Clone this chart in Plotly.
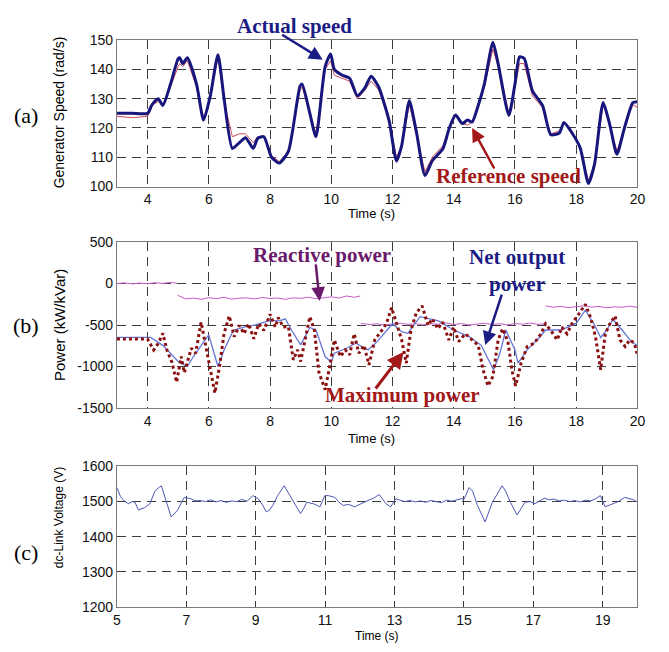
import plotly.graph_objects as go

# ---------------- Panel (a): generator speed ----------------
t_speed = [3.0, 3.5, 4.0, 4.1, 4.15, 4.35, 4.5, 4.75, 5.0, 5.05, 5.15, 5.3, 5.6, 5.83, 6.05, 6.3, 6.5, 6.77,
           7.0, 7.2, 7.45, 7.6, 7.8, 8.05, 8.3, 8.6, 8.98, 9.05, 9.3, 9.5, 9.8, 9.98, 10.1, 10.36, 10.6, 10.85,
           11.1, 11.3, 11.55, 11.75, 11.9, 12.13, 12.3, 12.55, 12.78, 13.06, 13.3, 13.65, 13.85, 14.06, 14.28,
           14.45, 14.6, 14.8, 15.0, 15.28, 15.45, 15.8, 16.0, 16.15, 16.3, 16.57, 16.9, 17.17, 17.45, 17.6,
           17.8, 18.13, 18.4, 18.6, 18.88, 19.1, 19.33, 19.57, 19.85, 20.0]
actual_speed = [125, 125, 125, 127, 128, 130, 127.7, 135, 143.7, 144, 142, 144, 135, 122.7, 131, 145, 130, 113,
                115, 116.7, 113, 116.5, 117, 110, 108, 112, 134.3, 135, 125, 117, 141, 145.3, 140, 138, 137, 131,
                133.7, 137.7, 134, 127.7, 122, 108.7, 114, 129.3, 118.7, 103.8, 108.8, 113, 119.8, 124.4, 121.5,
                122.7, 122, 127.7, 135, 149.3, 142, 124.3, 135, 144.3, 143.8, 132.7, 127.7, 117.7, 118.3, 121.9,
                119.3, 113.2, 101, 107.7, 128.7, 121, 111, 119.8, 128.7, 129]
reference_speed = [124, 123.5, 124, 126, 128, 129, 128, 134, 141, 142, 141, 143, 134, 123, 131, 144, 129, 117,
                   118, 118, 115, 117, 117, 110.5, 108.5, 112, 133, 134, 125, 118, 140, 143, 138, 137, 136, 130,
                   133, 136, 133, 127, 122, 110, 114, 128, 118, 105, 110, 114, 120, 124, 121.5, 121, 122, 127,
                   134, 147, 141, 125, 134, 142, 142, 131, 127, 118, 119, 122, 120, 113, 102, 108, 128, 121, 112,
                   120, 128, 127]

# ---------------- Panel (b): power ----------------
t_pmax = [3.0, 3.5, 4.0, 4.2, 4.36, 4.5, 4.63, 4.8, 4.95, 5.1, 5.2, 5.43, 5.57, 5.75, 5.9, 6.1, 6.2, 6.35, 6.5,
          6.67, 6.83, 7.0, 7.15, 7.3, 7.47, 7.63, 7.8, 8.0, 8.17, 8.27, 8.43, 8.6, 8.76, 8.9, 9.0, 9.3, 9.45,
          9.6, 9.8, 9.95, 10.1, 10.3, 10.46, 10.6, 10.75, 10.9, 11.07, 11.23, 11.42, 11.65, 11.8, 11.97, 12.13,
          12.3, 12.45, 12.6, 12.78, 12.97, 13.16, 13.3, 13.48, 13.64, 13.84, 14.0, 14.16, 14.38, 14.6, 14.8,
          14.96, 15.12, 15.28, 15.45, 15.6, 15.77, 15.9, 16.02, 16.2, 16.4, 16.63, 16.85, 17.0, 17.17, 17.38,
          17.53, 17.7, 17.86, 18.08, 18.3, 18.47, 18.63, 18.8, 18.95, 19.1, 19.27, 19.43, 19.6, 19.75, 19.9, 20.0]
max_power = [-670, -670, -670, -800, -715, -600, -800, -955, -1190, -880, -1075, -780, -840, -465, -760, -1120,
             -1320, -1000, -600, -390, -640, -505, -605, -485, -665, -485, -565, -370, -525, -410, -525, -520,
             -920, -800, -940, -400, -565, -1075, -1280, -1000, -680, -880, -800, -860, -605, -840, -745, -980,
             -680, -565, -485, -290, -485, -680, -960, -565, -350, -270, -505, -425, -545, -465, -680, -525,
             -700, -605, -680, -745, -1040, -1235, -1120, -680, -545, -700, -1040, -1235, -960, -760, -720, -605,
             -485, -565, -680, -525, -605, -485, -370, -250, -410, -640, -1040, -605, -485, -390, -680, -760,
             -680, -720, -860]

t_pnet = [3.0, 4.1, 4.5, 5.0, 5.3, 5.5, 5.8, 6.0, 6.3, 6.5, 6.8, 7.2, 7.5, 8.0, 8.3, 8.5, 8.7, 9.0, 9.3, 9.5,
          9.8, 10.0, 10.1, 10.5, 10.8, 11.2, 11.5, 11.8, 12.0, 12.3, 12.5, 12.9, 13.5, 14.0, 14.5, 14.9, 15.3,
          15.5, 15.7, 16.0, 16.1, 16.4, 16.8, 17.0, 17.5, 18.0, 18.3, 18.6, 18.8, 19.0, 19.2, 19.5, 19.8, 20.0]
net_power = [-650, -650, -745, -940, -1000, -880, -720, -620, -1000, -800, -565, -520, -500, -445, -450, -425,
             -560, -740, -530, -560, -880, -950, -840, -780, -720, -800, -700, -565, -485, -580, -600, -400,
             -450, -560, -640, -745, -1040, -850, -560, -800, -960, -800, -650, -560, -560, -480, -320, -500,
             -650, -560, -430, -560, -700, -750]

t_q = [3.0, 3.25, 3.5, 3.75, 4.0, 4.25, 4.5, 4.75, 4.96, None,
       4.98, 5.25, 5.5, 5.75, 6.0, 6.25, 6.5, 6.75, 7.0, 7.25, 7.5, 7.75, 8.0, 8.25, 8.5, 8.75, 9.0, 9.25,
       9.5, 9.75, 10.0, 10.25, 10.5, 10.75, 10.95, None,
       10.97, 11.25, 11.5, 11.75, 12.0, 12.25, 12.5, 12.75, 13.0, 13.25, 13.5, 13.75, 14.0, 14.25, 14.5,
       14.75, 15.0, 15.25, 15.5, 15.75, 16.0, 16.25, 16.5, 16.75, 16.98, None,
       17.0, 17.25, 17.5, 17.75, 18.0, 18.25, 18.5, 18.75, 19.0, 19.25, 19.5, 19.75, 20.0]
reactive_power = [0, 8, -4, 6, -2, 10, 2, 14, 5, None,
                  -140, -185, -175, -190, -170, -182, -165, -188, -176, -172, -185, -168, -180, -175, -190,
                  -172, -178, -165, -183, -170, -160, -175, -150, -165, -150, None,
                  -480, -495, -485, -500, -488, -478, -492, -484, -498, -486, -490, -475, -495, -482, -500,
                  -487, -479, -493, -485, -497, -483, -490, -476, -492, -485, None,
                  -270, -285, -275, -290, -278, -268, -284, -276, -292, -280, -286, -272, -288]

# ---------------- Panel (c): dc-link voltage ----------------
t_dc = [5.0, 5.1, 5.19, 5.33, 5.45, 5.52, 5.62, 5.7, 5.8, 5.95, 6.1, 6.28, 6.42, 6.56, 6.65, 6.75, 6.94, 7.05,
        7.13, 7.25, 7.41, 7.55, 7.7, 7.85, 8.0, 8.15, 8.3, 8.45, 8.6, 8.75, 8.92, 9.07, 9.2, 9.3, 9.4, 9.49,
        9.63, 9.82, 9.96, 10.14, 10.29, 10.38, 10.47, 10.56, 10.66, 10.75, 10.85, 10.99, 11.09, 11.28, 11.4,
        11.52, 11.68, 11.85, 12.0, 12.1, 12.23, 12.4, 12.56, 12.65, 12.75, 12.89, 13.03, 13.15, 13.3, 13.45,
        13.6, 13.75, 13.9, 14.05, 14.2, 14.35, 14.5, 14.65, 14.8, 14.92, 15.01, 15.15, 15.25, 15.39, 15.61,
        15.82, 15.95, 16.1, 16.2, 16.34, 16.53, 16.65, 16.76, 16.9, 17.05, 17.2, 17.33, 17.45, 17.6, 17.75,
        17.9, 18.05, 18.2, 18.35, 18.5, 18.65, 18.8, 18.93, 19.07, 19.2, 19.3, 19.45, 19.63, 19.8, 19.9, 20.0]
dc_voltage = [1540, 1515, 1503, 1494, 1500, 1498, 1476, 1480, 1483, 1494, 1531, 1545, 1498, 1457, 1465, 1476,
              1512, 1510, 1508, 1502, 1503, 1500, 1505, 1499, 1503, 1498, 1502, 1500, 1506, 1501, 1517, 1508,
              1490, 1471, 1476, 1489, 1517, 1545, 1521, 1494, 1466, 1480, 1498, 1496, 1494, 1490, 1485, 1517,
              1517, 1512, 1498, 1489, 1492, 1485, 1493, 1497, 1503, 1510, 1520, 1508, 1494, 1485, 1508, 1504,
              1500, 1503, 1499, 1502, 1498, 1503, 1500, 1497, 1504, 1501, 1505, 1508, 1508, 1540, 1530, 1489,
              1442, 1498, 1520, 1545, 1530, 1498, 1462, 1480, 1498, 1500, 1494, 1503, 1510, 1505, 1507, 1502,
              1504, 1500, 1503, 1499, 1504, 1502, 1508, 1517, 1485, 1490, 1494, 1500, 1512, 1508, 1505, 1498]

# ---------------- ticks ----------------
x_ticks_ab = [4, 6, 8, 10, 12, 14, 16, 18, 20]
x_ticks_c = [5, 7, 9, 11, 13, 15, 17, 19]
y_ticks_a = [100, 110, 120, 130, 140, 150]
y_ticks_b = [-1500, -1000, -500, 0, 500]
y_ticks_b_text = ["-1500", "-1000", "-500", "0", "500"]
y_ticks_c = [1200, 1300, 1400, 1500, 1600]

W, H = 669, 652
def px(x):
    return x / W
def py(y):
    return 1 - y / H

fig = go.Figure()

fig.add_trace(go.Scatter(x=t_speed, y=reference_speed, mode="lines", xaxis="x", yaxis="y",
                         line=dict(color="#d04a5a", width=1), showlegend=False))
fig.add_trace(go.Scatter(x=t_speed, y=actual_speed, mode="lines", xaxis="x", yaxis="y",
                         line=dict(color="#16167c", width=3, shape="spline", smoothing=0.6), showlegend=False))

fig.add_trace(go.Scatter(x=t_q, y=reactive_power, mode="lines", xaxis="x2", yaxis="y2", connectgaps=False,
                         line=dict(color="#c65ac8", width=1), showlegend=False))
fig.add_trace(go.Scatter(x=t_pnet, y=net_power, mode="lines", xaxis="x2", yaxis="y2",
                         line=dict(color="#6676d6", width=1.3), showlegend=False))
fig.add_trace(go.Scatter(x=t_pmax, y=max_power, mode="lines", xaxis="x2", yaxis="y2",
                         line=dict(color="#8a1010", width=3, dash="dot"), showlegend=False))

fig.add_trace(go.Scatter(x=t_dc, y=dc_voltage, mode="lines", xaxis="x3", yaxis="y3",
                         line=dict(color="#4e58b4", width=1), showlegend=False))

xdom = [px(115), px(645)]
grid = dict(showgrid=True, gridcolor="#3c3c3c", gridwidth=1, griddash="9px,6px", zeroline=False,
            showline=True, linecolor="#7a7a7a", linewidth=1.2, mirror=True, ticks="",
            tickfont=dict(family="Liberation Sans", size=14, color="#111"))

fig.update_layout(
    width=W, height=H, margin=dict(l=0, r=0, t=0, b=0), autosize=False,
    paper_bgcolor="white", plot_bgcolor="white",
    xaxis=dict(domain=xdom, anchor="y", range=[3, 20], tickvals=x_ticks_ab, **grid),
    yaxis=dict(domain=[py(183), py(33)], anchor="x", range=[100, 150], tickvals=y_ticks_a, **grid),
    xaxis2=dict(domain=xdom, anchor="y2", range=[3, 20], tickvals=x_ticks_ab, **grid),
    yaxis2=dict(domain=[py(410), py(240)], anchor="x2", range=[-1500, 500], tickvals=y_ticks_b,
                ticktext=y_ticks_b_text, **grid),
    xaxis3=dict(domain=xdom, anchor="y3", range=[5, 20], tickvals=x_ticks_c, **grid),
    yaxis3=dict(domain=[py(614), py(470)], anchor="x3", range=[1200, 1600], tickvals=y_ticks_c, **grid),
)

ann = []
serif = "Liberation Serif"
sans = "Liberation Sans"

def text(x, y, s, size, color="#000", family=sans, angle=0, bold=False):
    ann.append(dict(x=px(x), y=py(y), xref="paper", yref="paper", text=("<b>%s</b>" % s) if bold else s,
                    showarrow=False, xanchor="center", yanchor="middle", textangle=angle,
                    font=dict(family=family, size=size, color=color)))

# panel letters
text(22, 110, "(a)", 22, family=serif)
text(22, 325, "(b)", 22, family=serif)
text(22, 558, "(c)", 22, family=serif)

# axis titles
text(56, 107, "Generator Speed (rad/s)", 14, angle=-90)
text(56, 325, "Power (kW/kVar)", 15, angle=-90)
text(56, 522, "dc-Link Voltage (V)", 12, angle=-90)
text(374, 211, "Time (s)", 13)
text(374, 441, "Time (s)", 13)
text(380, 644, "Time (s)", 12)

# series labels
text(296, 18, "Actual speed", 21, "#1c1c86", serif, bold=True)
text(514, 172, "Reference speed", 21, "#a31818", serif, bold=True)
text(324, 253, "Reactive power", 21, "#6a1a6a", serif, bold=True)
text(522, 255, "Net output", 21, "#1c1c86", serif, bold=True)
text(522, 283, "power", 21, "#1c1c86", serif, bold=True)
text(406, 397, "Maximum power", 21, "#a31818", serif, bold=True)

def arrow(x, y, xr, yr, ax, ay, color, width):
    ann.append(dict(x=x, y=y, xref=xr, yref=yr, ax=ax, ay=ay, text="", showarrow=True,
                    arrowhead=2, arrowsize=1.1, arrowwidth=width, arrowcolor=color))

arrow(9.72, 143.3, "x", "y", -42, -26, "#1c1c86", 2.5)
arrow(14.6, 120, "x", "y", 23, 42, "#a31818", 2.5)
arrow(9.62, -210, "x2", "y2", -4, -38, "#6a1a6a", 2.5)
arrow(15.03, -742, "x2", "y2", 17, -52, "#1c1c86", 2.5)
arrow(12.36, -825, "x2", "y2", -29, 38, "#a31818", 3)

fig.update_layout(annotations=ann)

fig.write_html("out.html")
